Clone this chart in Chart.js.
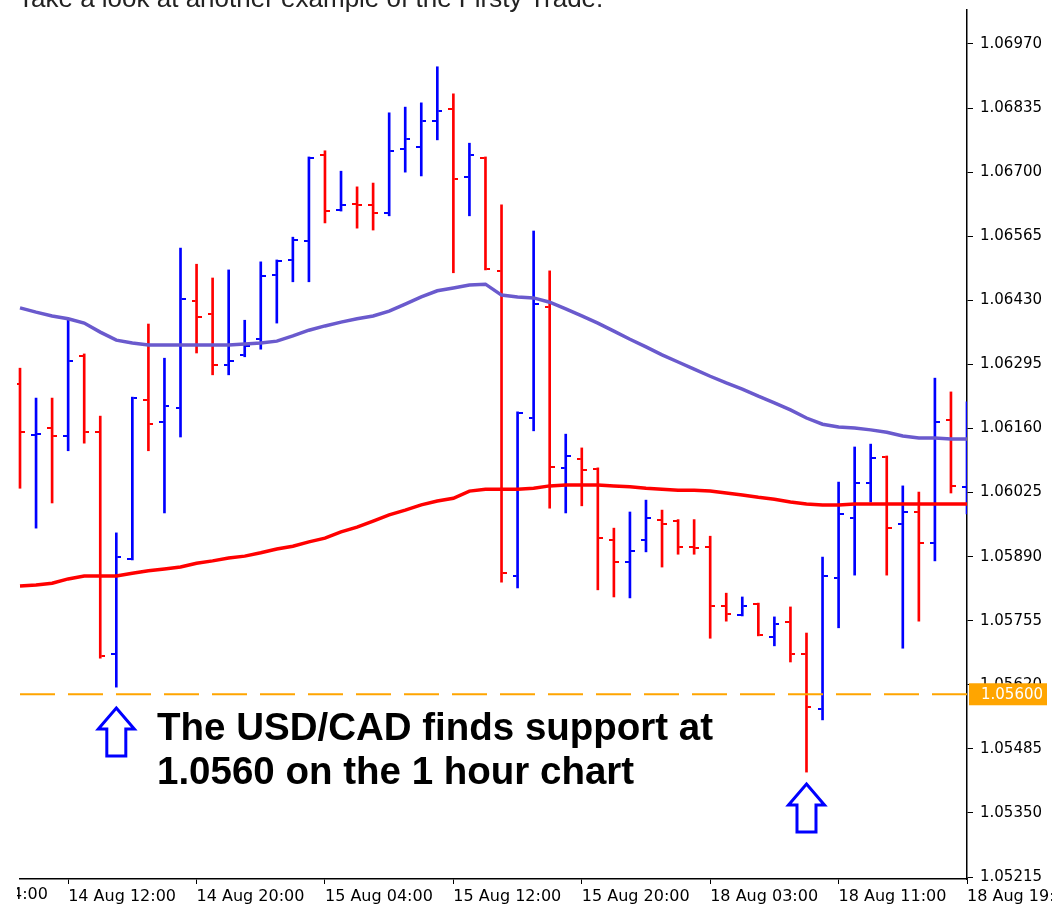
<!DOCTYPE html>
<html>
<head>
<meta charset="utf-8">
<title>USD/CAD H1</title>
<script src="https://cdn.jsdelivr.net/npm/chart.js@4.4.1/dist/chart.umd.min.js"></script>
<style>
  body { margin: 0; background: #fff; }
  #wrap { position: relative; width: 1052px; height: 908px; overflow: hidden; background: #fff; }
  #myChart { position: absolute; left: 0; top: 0; }
  .intro { position: absolute; left: 18px; top: -15px; font: 26px "Liberation Sans", Arial, sans-serif; line-height: 26px; color: #222; white-space: nowrap; }
  .cutLabel { position: absolute; left: 17px; top: 884px; width: 40px; height: 22px; overflow: hidden; }
  .cutLabel span { position: absolute; left: -77px; top: 0; font: 16px "DejaVu Sans", sans-serif; color: #000; white-space: nowrap; }
  .note { position: absolute; left: 157px; top: 705px; font: bold 38.5px "Liberation Sans", Arial, sans-serif; line-height: 44px; color: #000; white-space: nowrap; }
</style>
</head>
<body>
<div id="wrap">
  <canvas id="myChart" width="1052" height="908"></canvas>
  <div class="intro">Take a look at another example of the Firsty Trade.</div>
  <div class="cutLabel"><span>14 Aug 04:00</span></div>
  <div class="note">The USD/CAD finds support at<br>1.0560 on the 1 hour chart</div>
</div>
<script>
// hourly bars, 14 Aug 09:00 -> 18 Aug 19:00
const categories = [
    '14 Aug 09:00', '14 Aug 10:00', '14 Aug 11:00', '14 Aug 12:00', '14 Aug 13:00', '14 Aug 14:00', '14 Aug 15:00', '14 Aug 16:00',
    '14 Aug 17:00', '14 Aug 18:00', '14 Aug 19:00', '14 Aug 20:00', '14 Aug 21:00', '14 Aug 22:00', '14 Aug 23:00',
    '15 Aug 00:00', '15 Aug 01:00', '15 Aug 02:00', '15 Aug 03:00', '15 Aug 04:00', '15 Aug 05:00', '15 Aug 06:00', '15 Aug 07:00',
    '15 Aug 08:00', '15 Aug 09:00', '15 Aug 10:00', '15 Aug 11:00', '15 Aug 12:00', '15 Aug 13:00', '15 Aug 14:00', '15 Aug 15:00',
    '15 Aug 16:00', '15 Aug 17:00', '15 Aug 18:00', '15 Aug 19:00', '15 Aug 20:00', '15 Aug 21:00', '15 Aug 22:00', '15 Aug 23:00',
    '17 Aug 23:00',
    '18 Aug 00:00', '18 Aug 01:00', '18 Aug 02:00', '18 Aug 03:00', '18 Aug 04:00', '18 Aug 05:00', '18 Aug 06:00', '18 Aug 07:00',
    '18 Aug 08:00', '18 Aug 09:00', '18 Aug 10:00', '18 Aug 11:00', '18 Aug 12:00', '18 Aug 13:00', '18 Aug 14:00', '18 Aug 15:00',
    '18 Aug 16:00', '18 Aug 17:00', '18 Aug 18:00', '18 Aug 19:00'
];

const opens = [
    1.06254, 1.06146, 1.06161, 1.06144, 1.06313, 1.06153, 1.05685, 1.05885, 1.06220, 1.06174,
    1.06203, 1.06428, 1.06401, 1.06294, 1.06315, 1.06348, 1.06483, 1.06515, 1.06555, 1.06736,
    1.06620, 1.06632, 1.06631, 1.06614, 1.06749, 1.06753, 1.06808, 1.06833, 1.06690, 1.06730,
    1.06492, 1.05849, 1.06182, 1.06416, 1.06077, 1.06096, 1.06074, 1.05925, 1.05879, 1.05925,
    1.05967, 1.05966, 1.05910, 1.05910, 1.05786, 1.05766, 1.05790, 1.05721, 1.05752, 1.05685,
    1.05569, 1.05845, 1.05971, 1.06045, 1.06100, 1.05959, 1.05984, 1.05919, 1.06178, 1.06037
];
const highs = [
    1.06287, 1.06224, 1.06224, 1.06391, 1.06317, 1.06186, 1.05940, 1.06226, 1.06380, 1.06308,
    1.06540, 1.06506, 1.06477, 1.06494, 1.06388, 1.06511, 1.06515, 1.06563, 1.06732, 1.06745,
    1.06702, 1.06669, 1.06677, 1.06825, 1.06837, 1.06846, 1.06922, 1.06865, 1.06761, 1.06732,
    1.06631, 1.06195, 1.06576, 1.06492, 1.06148, 1.06119, 1.06077, 1.05950, 1.05984, 1.06009,
    1.05988, 1.05968, 1.05968, 1.05933, 1.05813, 1.05805, 1.05792, 1.05763, 1.05784, 1.05729,
    1.05889, 1.06047, 1.06121, 1.06127, 1.06102, 1.06039, 1.06026, 1.06266, 1.06237, 1.06216
];
const lows = [
    1.06034, 1.05950, 1.06003, 1.06113, 1.06129, 1.05676, 1.05615, 1.05883, 1.06113, 1.05982,
    1.06142, 1.06319, 1.06273, 1.06273, 1.06311, 1.06327, 1.06382, 1.06469, 1.06469, 1.06593,
    1.06618, 1.06582, 1.06578, 1.06608, 1.06700, 1.06692, 1.06768, 1.06488, 1.06608, 1.06494,
    1.05836, 1.05824, 1.06155, 1.05992, 1.05982, 1.05997, 1.05820, 1.05805, 1.05803, 1.05900,
    1.05868, 1.05895, 1.05895, 1.05718, 1.05754, 1.05765, 1.05723, 1.05702, 1.05668, 1.05436,
    1.05546, 1.05740, 1.05851, 1.06005, 1.05851, 1.05697, 1.05754, 1.05881, 1.06024, 1.05980
];
const closes = [
    1.06153, 1.06148, 1.06144, 1.06302, 1.06153, 1.05681, 1.05889, 1.06224, 1.06169, 1.06207,
    1.06433, 1.06395, 1.06294, 1.06302, 1.06334, 1.06481, 1.06513, 1.06557, 1.06730, 1.06618,
    1.06631, 1.06630, 1.06614, 1.06745, 1.06770, 1.06808, 1.06829, 1.06686, 1.06736, 1.06496,
    1.05855, 1.06193, 1.06422, 1.06079, 1.06102, 1.06072, 1.05929, 1.05879, 1.05902, 1.05971,
    1.05959, 1.05910, 1.05908, 1.05786, 1.05769, 1.05786, 1.05724, 1.05748, 1.05685, 1.05573,
    1.05849, 1.05980, 1.06045, 1.06098, 1.05950, 1.05984, 1.05919, 1.06174, 1.06039, 1.06072
];

// slow moving average (purple) and fast moving average (red)
const maSlow = [
    1.06414, 1.06405, 1.06397, 1.06391, 1.06382, 1.06363, 1.06346, 1.06340, 1.06336, 1.06336,
    1.06336, 1.06336, 1.06336, 1.06336, 1.06338, 1.06340, 1.06344, 1.06355, 1.06367, 1.06376,
    1.06384, 1.06391, 1.06397, 1.06407, 1.06422, 1.06437, 1.06450, 1.06456, 1.06462, 1.06464,
    1.06441, 1.06437, 1.06435, 1.06426, 1.06412, 1.06397, 1.06382, 1.06365, 1.06348, 1.06332,
    1.06315, 1.06300, 1.06285, 1.06270, 1.06256, 1.06243, 1.06228, 1.06214, 1.06199, 1.06182,
    1.06169, 1.06163, 1.06161, 1.06157, 1.06152, 1.06144, 1.06140, 1.06140, 1.06138, 1.06138
];
const maFast = [
    1.05828, 1.05830, 1.05834, 1.05843, 1.05849, 1.05849, 1.05849, 1.05855, 1.05860, 1.05864,
    1.05868, 1.05876, 1.05881, 1.05887, 1.05891, 1.05898, 1.05906, 1.05912, 1.05921, 1.05929,
    1.05942, 1.05952, 1.05965, 1.05978, 1.05988, 1.05999, 1.06007, 1.06013, 1.06028, 1.06032,
    1.06032, 1.06032, 1.06034, 1.06039, 1.06041, 1.06041, 1.06041, 1.06039, 1.06037, 1.06034,
    1.06032, 1.06030, 1.06030, 1.06028, 1.06024, 1.06020, 1.06015, 1.06011, 1.06005, 1.06001,
    1.05999, 1.05999, 1.06001, 1.06001, 1.06001, 1.06001, 1.06001, 1.06001, 1.06001, 1.06001
];

const yTicks = [1.06970, 1.06835, 1.06700, 1.06565, 1.06430, 1.06295, 1.06160, 1.06025,
    1.05890, 1.05755, 1.05620, 1.05485, 1.05350, 1.05215];
const supportLevel = 1.05600;
const arrowMarks = [{ index: 6, price: 1.05571 }, { index: 49, price: 1.05411 }];

const BULL = '#0000FF';
const BEAR = '#FF0000';
const isBull = i => closes[i] >= opens[i];

// little open / close ticks, left and right of the high-low line
function tickImage(color, side) {
    const c = document.createElement('canvas');
    c.width = 10;
    c.height = 2;
    const g = c.getContext('2d');
    g.fillStyle = color;
    g.fillRect(side === 'left' ? 0 : 6, 0, 4, 2);
    return c;
}
const openBull = tickImage(BULL, 'left');
const openBear = tickImage(BEAR, 'left');
const closeBull = tickImage(BULL, 'right');
const closeBear = tickImage(BEAR, 'right');

const barClip = { left: 3, top: 10, right: 0, bottom: 0 };

const annotations = {
    id: 'annotations',
    afterDraw(chart) {
        const { ctx, scales: { x, y } } = chart;
        arrowMarks.forEach(m => {
            const cx = x.getPixelForValue(m.index);
            const top = y.getPixelForValue(m.price);
            ctx.save();
            ctx.beginPath();
            ctx.moveTo(cx, top);
            ctx.lineTo(cx + 18, top + 21);
            ctx.lineTo(cx + 9.5, top + 21);
            ctx.lineTo(cx + 9.5, top + 48);
            ctx.lineTo(cx - 9.5, top + 48);
            ctx.lineTo(cx - 9.5, top + 21);
            ctx.lineTo(cx - 18, top + 21);
            ctx.closePath();
            ctx.fillStyle = '#fff';
            ctx.fill();
            ctx.lineWidth = 3;
            ctx.lineJoin = 'miter';
            ctx.strokeStyle = '#0000FF';
            ctx.stroke();
            ctx.restore();
        });

        // price tag of the support line on the axis
        const sy = y.getPixelForValue(supportLevel);
        ctx.save();
        ctx.fillStyle = '#FFA500';
        ctx.fillRect(x.right + 2, sy - 11, 78, 22);
        ctx.fillStyle = '#fff';
        ctx.font = '15px "DejaVu Sans"';
        ctx.textBaseline = 'middle';
        ctx.fillText(supportLevel.toFixed(5), x.right + 14, sy + 1);
        ctx.restore();
    }
};

const ctx = document.getElementById('myChart').getContext('2d');

const config = {
    type: 'bar',
    data: {
        labels: categories,
        datasets: [
            {
                type: 'line',
                label: 'Support',
                data: categories.map(() => supportLevel),
                borderColor: '#FFA500',
                borderWidth: 2,
                borderDash: [35, 13],
                pointRadius: 0,
                order: 0
            },
            {
                type: 'line',
                label: 'MA slow',
                data: maSlow,
                borderColor: '#6A5ACD',
                borderWidth: 3.5,
                pointRadius: 0,
                tension: 0,
                order: 1
            },
            {
                type: 'line',
                label: 'MA fast',
                data: maFast,
                borderColor: '#FF0000',
                borderWidth: 3.5,
                pointRadius: 0,
                tension: 0,
                order: 1
            },
            {
                type: 'line',
                label: 'Open',
                data: opens,
                showLine: false,
                pointRadius: 4,
                pointStyle: c => isBull(c.dataIndex) ? openBull : openBear,
                clip: barClip,
                order: 2
            },
            {
                type: 'line',
                label: 'Close',
                data: closes,
                showLine: false,
                pointRadius: 4,
                pointStyle: c => isBull(c.dataIndex) ? closeBull : closeBear,
                clip: barClip,
                order: 2
            },
            {
                type: 'bar',
                label: 'High-Low',
                data: lows.map((l, i) => [l, highs[i]]),
                backgroundColor: c => isBull(c.dataIndex) ? BULL : BEAR,
                borderWidth: 0,
                barThickness: 2,
                clip: barClip,
                order: 3
            }
        ]
    },
    options: {
        responsive: false,
        animation: false,
        devicePixelRatio: 1,
        layout: {
            autoPadding: false,
            padding: { left: 20, top: 10, right: 0, bottom: 0 }
        },
        plugins: {
            legend: { display: false },
            tooltip: { enabled: false }
        },
        scales: {
            x: {
                offset: false,
                grid: {
                    offset: false,
                    drawOnChartArea: false,
                    tickLength: 5,
                    color: c => c.index % 8 === 3 ? '#000' : 'rgba(0,0,0,0)'
                },
                border: { color: '#000', width: 1.5 },
                ticks: {
                    autoSkip: false,
                    maxRotation: 0,
                    minRotation: 0,
                    align: 'start',
                    padding: 3,
                    color: '#000',
                    font: { family: 'DejaVu Sans', size: 16 },
                    callback: (v, i) => i % 8 === 3 ? categories[i] : ''
                },
                afterFit: s => { s.height = 29; s.paddingLeft = 0; s.paddingRight = 0; }
            },
            y: {
                position: 'right',
                min: 1.052108,
                max: 1.070416,
                afterBuildTicks: s => { s.ticks = yTicks.map(v => ({ value: v })); },
                grid: { drawOnChartArea: false, tickLength: 6, color: '#000' },
                border: { color: '#000', width: 1.5 },
                ticks: {
                    padding: 7,
                    color: '#000',
                    font: { family: 'DejaVu Sans', size: 15 },
                    callback: v => v.toFixed(5)
                },
                afterFit: s => { s.width = 85; s.paddingTop = 0; s.paddingBottom = 0; }
            }
        }
    },
    plugins: [annotations]
};

new Chart(ctx, config);
</script>
</body>
</html>
